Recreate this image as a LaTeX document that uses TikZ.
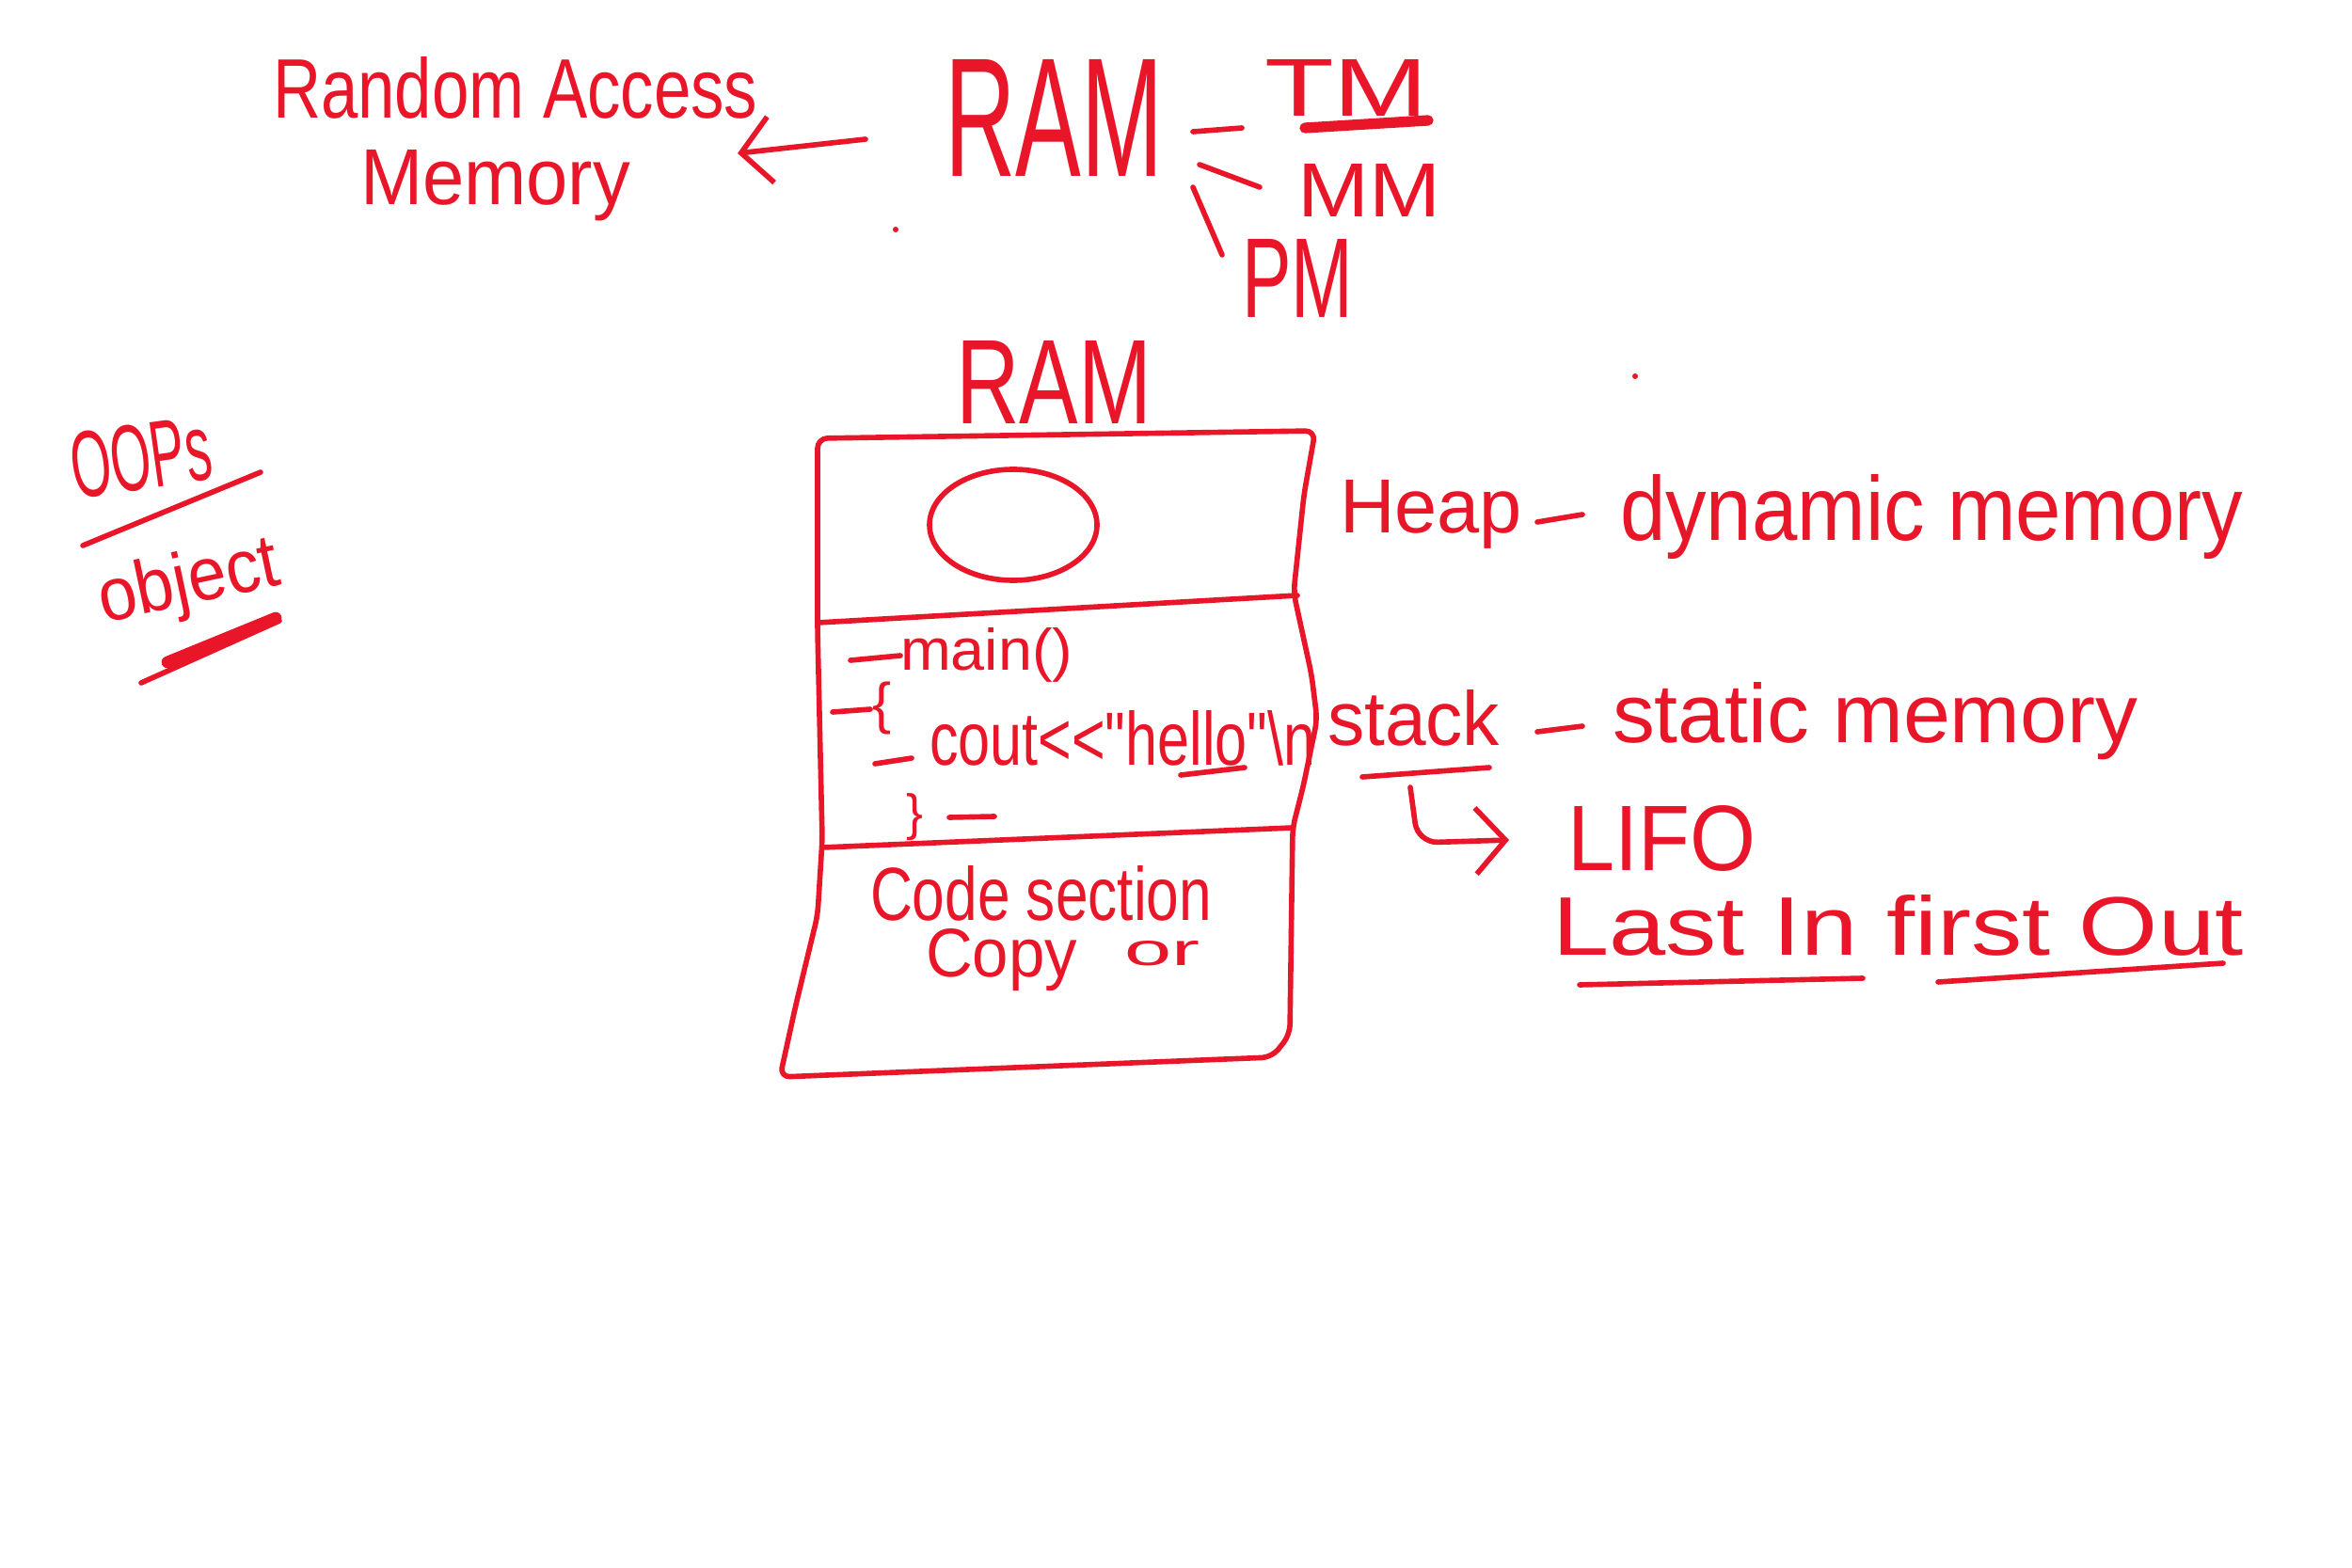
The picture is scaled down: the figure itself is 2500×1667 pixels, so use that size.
\documentclass[tikz,border=0pt]{standalone}
\usepackage{fontspec}
\setmainfont{Liberation Sans}
\newfontfamily\codefont{Liberation Sans}
\usepackage{graphicx}
\usetikzlibrary{arrows.meta}
\definecolor{ink}{RGB}{232,22,40}
\newdimen\pxu \pxu=0.1mm
\newcommand{\hw}[3]{\resizebox{#1\pxu}{#2\pxu}{#3}}
\tikzset{
  hwtext/.style={inner sep=0pt, outer sep=0pt, text=ink, anchor=base west},
  pen/.style={draw=ink, line width=1.6pt, line cap=round, line join=round},
  thickpen/.style={pen, line width=3.2pt},
  barb/.style={-{Straight Barb[length=9pt,width=20pt,line width=1.6pt]}}
}
\begin{document}
\begin{tikzpicture}[x=0.01cm, y=-0.01cm]
\useasboundingbox (0,0) rectangle (2500,1667);
\fill[white] (0,0) rectangle (2500,1667);

% ---------- top: RAM and its meaning ----------
\node[hwtext] (ra)  at (290,126)  {\hw{515}{65}{Random Access}};
\node[hwtext] (mem) at (383,218)  {\hw{287}{58}{Memory}};
\node[hwtext] (ramtop) at (1004,188) {\hw{232}{124}{RAM}};
\node[hwtext] (tm) at (1344,124) {\hw{174}{60}{TM}};
\node[hwtext] (mm) at (1379,231) {\hw{152}{56}{MM}};
\node[hwtext] (pm) at (1320,338) {\hw{118}{83}{PM}};

\coordinate (arrT) at (920,148);
\coordinate (arrH) at (784,163);
\draw[pen, barb] (arrT) -- (arrH);

\coordinate (tmA) at (1268,140); \coordinate (tmB) at (1320,136);
\coordinate (mmA) at (1275,175); \coordinate (mmB) at (1339,199);
\coordinate (pmA) at (1268,199); \coordinate (pmB) at (1299,271);
\draw[pen] (tmA) -- (tmB);
\draw[pen] (mmA) -- (mmB);
\draw[pen] (pmA) -- (pmB);
\draw[thickpen] (1387,136) -- (1518,128);

\fill[ink] (952,244) circle (3);
\fill[ink] (1738,400) circle (3);

% ---------- left: OOPs / object ----------
\node[hwtext, rotate=8] (oops) at (80,530) {\hw{150}{70}{OOPs}};
\draw[pen] (88,580) -- (277,502);
\node[hwtext, rotate=12] (obj) at (110,662) {\hw{195}{58}{object}};
\draw[pen] (150,726) -- (297,660);
\draw[ink, line width=3.6pt, line cap=round] (178,704) -- (293,657);

% ---------- RAM box ----------
\node[hwtext] (rammid) at (1016,451) {\hw{208}{88}{RAM}};
\draw[pen, rounded corners=3pt]
  (869,466) -- (1398,458) -- (1386,526) -- (1375,630) -- (1394,717)
  -- (1400,765) -- (1385,837) -- (1374,880) -- (1371,1100) -- (1352,1124)
  -- (829,1145) -- (846,1068) -- (869,973) -- (874,893) -- (869,670) -- cycle;
\draw[pen] (1077,558) ellipse (89 and 59);
\draw[pen] (869,662) -- (1379,633);
\draw[pen] (874,901) -- (1374,880);

% code in the stack section
\node[hwtext] (main) at (957,712) {\hw{183}{45}{main()}};
\draw[pen] (904,702) -- (957,697);
\node[inner sep=0pt, text=ink] (ob) at (938,753) {\resizebox*{!}{56\pxu}{\{}};
\draw[pen] (885,757) -- (925,754);
\node[hwtext] (cout) at (988,813) {\hw{410}{58}{\codefont cout<<"hello"\textbackslash n}};
\draw[pen] (930,812) -- (969,806);
\draw[pen] (1255,824) -- (1323,816);
\node[inner sep=0pt, text=ink] (cb) at (972,869) {\resizebox*{!}{50\pxu}{\}}};
\draw[pen] (1009,869) -- (1057,868);

% code section
\node[hwtext] (code) at (925,978) {\hw{363}{58}{Code section}};
\node[hwtext] (copy) at (984,1038) {\hw{161}{51}{Copy}};
\node[hwtext] (or) at (1195,1026) {\hw{80}{26}{or}};

% ---------- right: heap / stack ----------
\node[hwtext] (heap) at (1424,566) {\hw{194}{56}{Heap}};
\coordinate (hdA) at (1634,555); \coordinate (hdB) at (1682,547);
\draw[pen] (hdA) -- (hdB);
\node[hwtext] (dyn) at (1722,574) {\hw{662}{70}{dynamic memory}};

\node[hwtext] (stack) at (1411,792) {\hw{183}{59}{stack}};
\coordinate (sdA) at (1634,778); \coordinate (sdB) at (1682,772);
\draw[pen] (sdA) -- (sdB);
\node[hwtext] (stat) at (1714,789) {\hw{558}{64}{static memory}};
\draw[pen] (1448,826) -- (1583,816);

\coordinate (hkA) at (1499,837);
\coordinate (hkB) at (1507,896);
\coordinate (hkC) at (1604,893);
\draw[pen, barb, rounded corners=6pt] (hkA) -- (hkB) -- (hkC);

\node[hwtext] (lifo) at (1666,925) {\hw{200}{69}{LIFO}};
\node[hwtext] (lifo2) at (1650,1015) {\hw{734}{64}{Last In first Out}};
\draw[pen] (1679,1047) -- (1980,1040);
\draw[pen] (2060,1044) -- (2363,1024);
\end{tikzpicture}
\end{document}
